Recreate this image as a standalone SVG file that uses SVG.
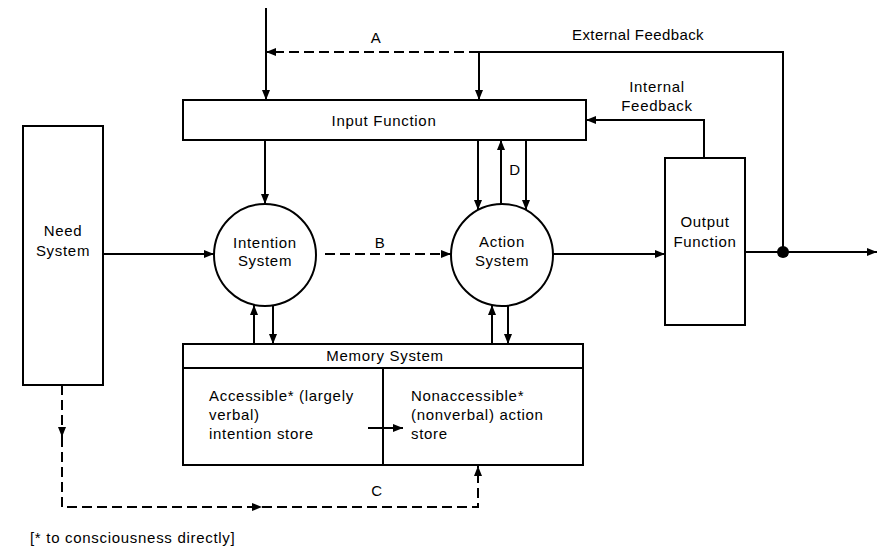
<svg xmlns="http://www.w3.org/2000/svg" width="878" height="549" viewBox="0 0 878 549">
<defs>
<marker id="arr" markerUnits="userSpaceOnUse" markerWidth="10" markerHeight="8" refX="10" refY="4" orient="auto">
<path d="M0,0 L10,4 L0,8 z" fill="#000"/>
</marker>
<style>
.box{fill:#fff;stroke:#000;stroke-width:2}
.ln{fill:none;stroke:#000;stroke-width:2}
.ds{fill:none;stroke:#000;stroke-width:2;stroke-dasharray:10 5}
.ar{marker-end:url(#arr)}
text{font-family:"Liberation Sans",Arial,sans-serif;font-size:15px;letter-spacing:0.7px;fill:#000}
.c{text-anchor:middle}
</style>
</defs>
<rect width="878" height="549" fill="#fff"/>

<g id="input-function">
<rect class="box" x="183" y="100" width="403" height="40"/>
<text class="c" x="384" y="126">Input Function</text>
</g>

<g id="need-system">
<rect class="box" x="23" y="126" width="80" height="259"/>
<text class="c" x="63" y="236">Need</text>
<text class="c" x="63" y="256">System</text>
</g>

<g id="intention-system">
<circle class="box" cx="265" cy="255" r="51"/>
<text class="c" x="265" y="248">Intention</text>
<text class="c" x="265" y="266">System</text>
</g>

<g id="action-system">
<circle class="box" cx="502" cy="255" r="51"/>
<text class="c" x="502" y="247">Action</text>
<text class="c" x="502" y="266">System</text>
</g>

<g id="output-function">
<rect class="box" x="665" y="158" width="80" height="167"/>
<text class="c" x="705" y="227">Output</text>
<text class="c" x="705" y="247">Function</text>
</g>

<g id="memory-system">
<rect class="box" x="183" y="344" width="400" height="121"/>
<line class="ln" x1="183" y1="368" x2="583" y2="368"/>
<line class="ln" x1="383" y1="368" x2="383" y2="465"/>
<text class="c" x="385" y="361">Memory System</text>
<text x="209" y="401">Accessible* (largely</text>
<text x="209" y="420">verbal)</text>
<text x="209" y="439">intention store</text>
<text x="411" y="401">Nonaccessible*</text>
<text x="411" y="420">(nonverbal) action</text>
<text x="411" y="439">store</text>
</g>

<g id="connectors">
<!-- top input -->
<path class="ln ar" d="M266,8 V100"/>
<!-- external feedback -->
<path class="ln" d="M783,252 V52 H479"/>
<path class="ln ar" d="M479,52 V100"/>
<path class="ds ar" d="M479,52 H266"/>
<!-- internal feedback -->
<path class="ln ar" d="M704,158 V120 H586"/>
<!-- input to intention -->
<path class="ln ar" d="M265,140 V204"/>
<!-- D lines -->
<path class="ln ar" d="M478,140 V210"/>
<path class="ln ar" d="M501,204 V140"/>
<path class="ln ar" d="M526,140 V210"/>
<!-- need to intention -->
<path class="ln ar" d="M103,254 H214"/>
<!-- B -->
<path class="ds ar" d="M325,254 H451"/>
<!-- action to output -->
<path class="ln ar" d="M553,254 H665"/>
<!-- output -->
<path class="ln ar" d="M745,252 H877"/>
<circle cx="783" cy="252" r="6" fill="#000"/>
<!-- intention <-> memory -->
<path class="ln ar" d="M254,344 V305"/>
<path class="ln ar" d="M273,305 V344"/>
<!-- action <-> memory -->
<path class="ln ar" d="M492,344 V305"/>
<path class="ln ar" d="M508,305 V344"/>
<!-- intention store to action store -->
<path class="ln ar" d="M368,428 H403"/>
<!-- C path -->
<path class="ds ar" d="M62,385 V437"/>
<path class="ds ar" d="M62,437 V507 H262"/>
<path class="ds ar" d="M262,507 H478 V466"/>
</g>

<g id="labels">
<text class="c" x="376" y="43">A</text>
<text class="c" x="638" y="40" style="letter-spacing:0.4px">External Feedback</text>
<text class="c" x="657" y="92">Internal</text>
<text class="c" x="657" y="111">Feedback</text>
<text class="c" x="380" y="248">B</text>
<text class="c" x="515" y="175">D</text>
<text class="c" x="377" y="496">C</text>
<text x="30" y="543">[* to consciousness directly]</text>
</g>
</svg>
